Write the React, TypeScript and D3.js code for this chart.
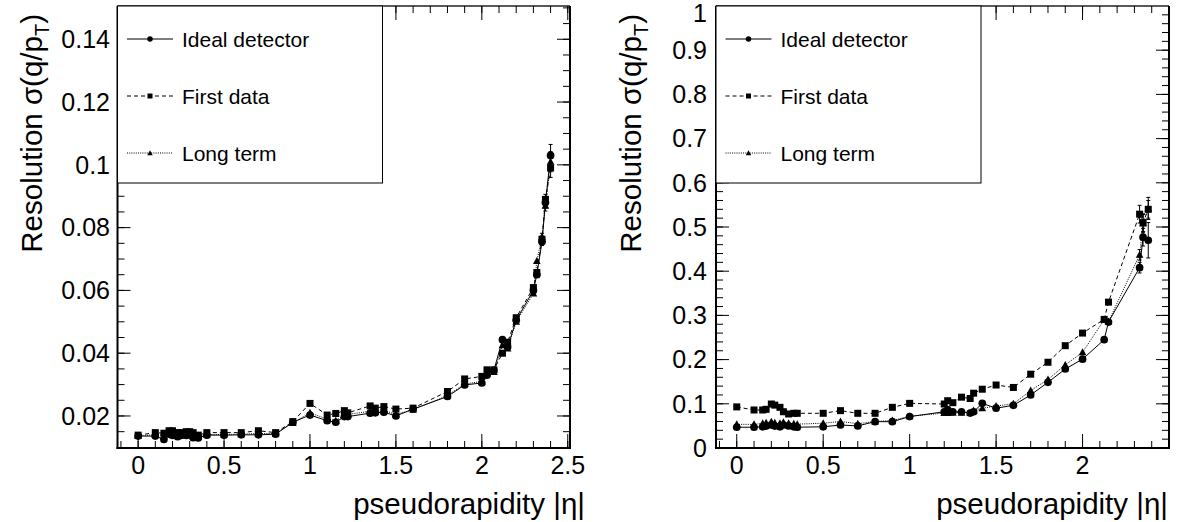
import React from "react";
import * as d3 from "d3";

// ---------- data ----------
const leftEta = [0, 0.1, 0.15, 0.18, 0.2, 0.23, 0.25, 0.28, 0.3, 0.32, 0.35, 0.4, 0.5, 0.6, 0.7, 0.8, 0.9, 1.0, 1.1, 1.15, 1.2, 1.22, 1.35, 1.38, 1.43, 1.5, 1.6, 1.8, 1.9, 2.0, 2.03, 2.07, 2.12, 2.15, 2.2, 2.3, 2.32, 2.35, 2.37, 2.4];
const leftIdeal = [0.0136, 0.0136, 0.0125, 0.0142, 0.0138, 0.0134, 0.0138, 0.0138, 0.014, 0.0131, 0.013, 0.0139, 0.0139, 0.014, 0.014, 0.0142, 0.018, 0.0203, 0.0185, 0.018, 0.0198, 0.0198, 0.0209, 0.021, 0.0212, 0.02, 0.0222, 0.0262, 0.0299, 0.0305, 0.033, 0.0345, 0.0443, 0.042, 0.0505, 0.06, 0.065, 0.0755, 0.088, 0.103];
const leftFirst = [0.0139, 0.0147, 0.0145, 0.0153, 0.0153, 0.0147, 0.0147, 0.015, 0.015, 0.0147, 0.0139, 0.0147, 0.0147, 0.0147, 0.0153, 0.0147, 0.0182, 0.024, 0.0203, 0.0208, 0.0217, 0.021, 0.0232, 0.0225, 0.023, 0.0222, 0.0225, 0.0278, 0.0318, 0.0326, 0.0347, 0.0347, 0.04, 0.0435, 0.0513, 0.0609, 0.0657, 0.0763, 0.089, 0.099];
const leftLong = [0.0137, 0.014, 0.0138, 0.0145, 0.0145, 0.014, 0.0142, 0.0142, 0.0143, 0.0137, 0.0135, 0.0141, 0.0141, 0.0142, 0.0144, 0.0144, 0.0178, 0.021, 0.019, 0.0185, 0.0202, 0.0205, 0.0215, 0.0213, 0.0218, 0.0205, 0.022, 0.0265, 0.0302, 0.031, 0.0335, 0.034, 0.0425, 0.0415, 0.05, 0.059, 0.0694, 0.077, 0.087, 0.101];
const leftErrIdx = [37, 38, 39];
const leftErrIdeal = [0.0012, 0.0018, 0.0035];
const leftErrFirst = [0.001, 0.0016, 0.003];
const leftErrLong = [0.0012, 0.0017, 0.0032];

const rightEta = [0, 0.1, 0.15, 0.17, 0.2, 0.22, 0.25, 0.27, 0.3, 0.33, 0.35, 0.5, 0.6, 0.7, 0.8, 0.9, 1.0, 1.2, 1.22, 1.25, 1.3, 1.35, 1.37, 1.42, 1.5, 1.6, 1.7, 1.8, 1.9, 2.0, 2.125, 2.15, 2.33, 2.35, 2.38];
const rightIdeal = [0.047, 0.047, 0.048, 0.0497, 0.052, 0.0497, 0.048, 0.052, 0.05, 0.048, 0.047, 0.048, 0.052, 0.05, 0.0596, 0.0596, 0.071, 0.082, 0.087, 0.082, 0.082, 0.079, 0.082, 0.101, 0.09, 0.0966, 0.12, 0.1486, 0.1787, 0.201, 0.245, 0.285, 0.408, 0.477, 0.47];
const rightFirst = [0.093, 0.086, 0.086, 0.0875, 0.0995, 0.097, 0.092, 0.082, 0.077, 0.0785, 0.0785, 0.0785, 0.0845, 0.0785, 0.0785, 0.092, 0.101, 0.0995, 0.107, 0.1025, 0.115, 0.112, 0.124, 0.133, 0.1425, 0.137, 0.167, 0.194, 0.2315, 0.26, 0.291, 0.33, 0.529, 0.51, 0.54];
const rightLong = [0.0535, 0.0535, 0.056, 0.057, 0.0596, 0.057, 0.056, 0.058, 0.056, 0.055, 0.054, 0.056, 0.06, 0.055, 0.06, 0.062, 0.072, 0.079, 0.079, 0.08, 0.08, 0.08, 0.085, 0.09, 0.095, 0.1, 0.13, 0.155, 0.188, 0.2165, 0.29, 0.286, 0.437, 0.508, 0.542];
const rightErrIdx = [32, 33, 34];
const rightErrIdeal = [0.012, 0.02, 0.04];
const rightErrFirst = [0.02, 0.02, 0.02];
const rightErrLong = [0.012, 0.02, 0.025];

const seriesNames = ["Ideal detector", "First data", "Long term"];
const xTickLabelsLeft = ["0", "0.5", "1", "1.5", "2", "2.5"];
const xTickLabelsRight = ["0", "0.5", "1", "1.5", "2"];
const yTickLabelsLeft = ["0.02", "0.04", "0.06", "0.08", "0.1", "0.12", "0.14"];
const yTickLabelsRight = ["0", "0.1", "0.2", "0.3", "0.4", "0.5", "0.6", "0.7", "0.8", "0.9", "1"];

const FONT = "'Liberation Sans', Arial, Helvetica, sans-serif";
const markers = ["circle", "square", "triangle"] as const;
const dashes = ["", "4,3", "1,1.2"];

type PanelCfg = {
  x0: number; x1: number; y0: number; y1: number;
  xDomain: [number, number]; yDomain: [number, number];
  eta: number[]; series: number[][]; errIdx: number[]; errs: number[][];
  xLabels: string[]; yLabels: string[];
  yMinorStep: number; yMinorStart: number;
  legendRight: number; legendBottom: number;
  titleX: number; xTitleEnd: number; labelRight: number;
};

function Marker({ kind, x, y, s }: { kind: string; x: number; y: number; s: number }) {
  if (kind === "circle") return <circle cx={x} cy={y} r={s * 0.55} fill="black" />;
  if (kind === "square") return <rect x={x - s / 2} y={y - s / 2} width={s} height={s} fill="black" />;
  const h = s * 0.95;
  return <path d={`M${x},${y - h * 0.6}L${x + s * 0.55},${y + h * 0.45}L${x - s * 0.55},${y + h * 0.45}Z`} fill="black" />;
}

function Panel({ c }: { c: PanelCfg }) {
  const xs = d3.scaleLinear().domain(c.xDomain).range([c.x0, c.x1]);
  const ys = d3.scaleLinear().domain(c.yDomain).range([c.y1, c.y0]);
  const line = d3.line<[number, number]>().x((d) => xs(d[0])).y((d) => ys(d[1]));

  const xMinor = d3.range(-0.1, c.xDomain[1] + 1e-6, 0.1).filter((v) => xs(v) > c.x0 + 1 && xs(v) < c.x1 - 1);
  const xMajor = d3.range(0, c.xDomain[1] + 1e-6, 0.5).filter((v) => xs(v) < c.x1 - 0.5);
  const yMinor = d3.range(c.yMinorStart, c.yDomain[1] + 1e-9, c.yMinorStep).filter((v) => ys(v) < c.y1 - 1 && ys(v) > c.y0 + 1);
  const yMajorVals = c.yLabels.map((l) => +l);

  return (
    <g>
      {c.series.map((vals, si) => {
        const pts: [number, number][] = c.eta.map((e, i) => [e, vals[i]]);
        return (
          <g key={si}>
            <path d={line(pts) || ""} fill="none" stroke="black" strokeWidth={1} strokeDasharray={dashes[si]} />
            {c.errIdx.map((idx, k) => {
              const x = xs(c.eta[idx]);
              const e = c.errs[si][k];
              const ya = ys(vals[idx] + e), yb = ys(vals[idx] - e);
              return (
                <g key={k} stroke="black" strokeWidth={1}>
                  <line x1={x} x2={x} y1={ya} y2={yb} />
                  <line x1={x - 2} x2={x + 2} y1={ya} y2={ya} />
                  <line x1={x - 2} x2={x + 2} y1={yb} y2={yb} />
                </g>
              );
            })}
            {pts.map((p, i) => (
              <Marker key={i} kind={markers[si]} x={xs(p[0])} y={ys(p[1])} s={7} />
            ))}
          </g>
        );
      })}

      <line x1={c.x0} x2={c.x1} y1={c.y0} y2={c.y0} stroke="#222" strokeWidth={1.5} />
      <line x1={c.x1} x2={c.x1} y1={c.y0} y2={c.y1 + 1} stroke="black" strokeWidth={2} />
      <line x1={c.x0 - 1} x2={c.x1 + 1} y1={c.y1} y2={c.y1} stroke="black" strokeWidth={2} />
      <line x1={c.x0} x2={c.x0} y1={c.y0} y2={c.y1 + 1} stroke="black" strokeWidth={2} />

      {xMinor.map((v, i) => (
        <g key={"xm" + i} stroke="black" strokeWidth={1}>
          <line x1={xs(v)} x2={xs(v)} y1={c.y1} y2={c.y1 - 7} />
          <line x1={xs(v)} x2={xs(v)} y1={c.y0} y2={c.y0 + 7} />
        </g>
      ))}
      {xMajor.map((v, i) => (
        <g key={"xM" + i} stroke="black" strokeWidth={1}>
          <line x1={xs(v)} x2={xs(v)} y1={c.y1} y2={c.y1 - 14} />
          <line x1={xs(v)} x2={xs(v)} y1={c.y0} y2={c.y0 + 14} />
        </g>
      ))}
      {yMinor.map((v, i) => (
        <g key={"ym" + i} stroke="black" strokeWidth={1}>
          <line x1={c.x0} x2={c.x0 + 7} y1={ys(v)} y2={ys(v)} />
          <line x1={c.x1} x2={c.x1 - 7} y1={ys(v)} y2={ys(v)} />
        </g>
      ))}
      {yMajorVals.filter((v) => ys(v) < c.y1 - 1 && ys(v) > c.y0 + 1).map((v, i) => (
        <g key={"yM" + i} stroke="black" strokeWidth={1}>
          <line x1={c.x0} x2={c.x0 + 13} y1={ys(v)} y2={ys(v)} />
          <line x1={c.x1} x2={c.x1 - 13} y1={ys(v)} y2={ys(v)} />
        </g>
      ))}

      {c.xLabels.map((l, i) => (
        <text key={"xl" + i} x={xs(+l)} y={c.y1 + 26} textAnchor="middle" fontFamily={FONT} fontSize={25}>{l}</text>
      ))}
      {c.yLabels.map((l, i) => {
        const yy = Math.min(Math.max(ys(+l), 13), c.y1 + 3);
        return (
          <text key={"yl" + i} x={c.labelRight} y={yy} dy="0.35em" textAnchor="end" fontFamily={FONT} fontSize={25}>{l}</text>
        );
      })}

      <text x={c.xTitleEnd} y={514} textAnchor="end" fontFamily={FONT} fontSize={29.5}>pseudorapidity |η|</text>
      <text transform={`translate(${c.titleX},14) rotate(-90)`} textAnchor="end" fontFamily={FONT} fontSize={29.5}>
        Resolution σ(q/p<tspan fontSize={20} dy={7}>T</tspan><tspan dy={-7}>)</tspan>
      </text>

      <rect x={c.x0} y={c.y0} width={c.legendRight - c.x0} height={c.legendBottom - c.y0} fill="white" stroke="black" strokeWidth={1} />
      {seriesNames.map((n, i) => {
        const base = [47, 104, 161][i];
        const ly = base - 8;
        const lx0 = c.x0 + 9.5, lx1 = c.x0 + 55.5;
        return (
          <g key={"lg" + i}>
            <line x1={lx0} x2={lx1} y1={ly} y2={ly} stroke="black" strokeWidth={1} strokeDasharray={dashes[i]} />
            <Marker kind={markers[i]} x={(lx0 + lx1) / 2} y={ly} s={5} />
            <text x={c.x0 + 64.5} y={base} fontFamily={FONT} fontSize={21}>{n}</text>
          </g>
        );
      })}
    </g>
  );
}

const leftCfg: PanelCfg = {
  x0: 117.5, x1: 570, y0: 6, y1: 448,
  xDomain: [-0.12, 2.513], yDomain: [0.0098, 0.1506],
  eta: leftEta, series: [leftIdeal, leftFirst, leftLong],
  errIdx: leftErrIdx, errs: [leftErrIdeal, leftErrFirst, leftErrLong],
  xLabels: xTickLabelsLeft, yLabels: yTickLabelsLeft,
  yMinorStep: 0.005, yMinorStart: 0.01,
  legendRight: 382.5, legendBottom: 183,
  titleX: 42, xTitleEnd: 585, labelRight: 110,
};

const rightCfg: PanelCfg = {
  x0: 716, x1: 1169, y0: 6, y1: 448,
  xDomain: [-0.12, 2.5], yDomain: [0, 1],
  eta: rightEta, series: [rightIdeal, rightFirst, rightLong],
  errIdx: rightErrIdx, errs: [rightErrIdeal, rightErrFirst, rightErrLong],
  xLabels: xTickLabelsRight, yLabels: yTickLabelsRight,
  yMinorStep: 0.02, yMinorStart: 0,
  legendRight: 981, legendBottom: 183,
  titleX: 641, xTitleEnd: 1168, labelRight: 707,
};

export default function App() {
  return (
    <svg width={1181} height={522} style={{ position: "absolute", left: 0, top: 0, background: "white" }}>
      <rect width={1181} height={522} fill="white" />
      <Panel c={leftCfg} />
      <Panel c={rightCfg} />
    </svg>
  );
}
